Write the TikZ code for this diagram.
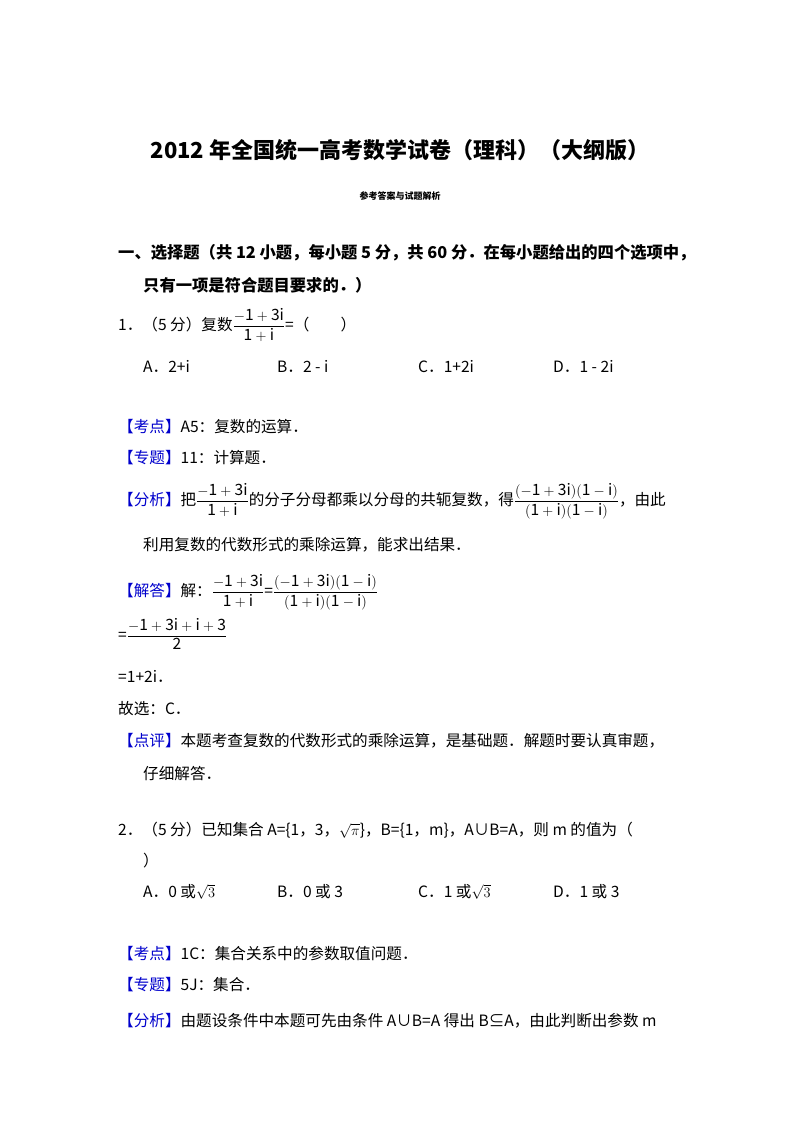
\documentclass[tikz,border=0pt]{standalone}
\usepackage{amsmath}
\usepackage{fontspec}
\setmainfont{Noto Sans CJK SC}
\begin{document}
\begin{tikzpicture}[x=1pt,y=-1pt,
  every node/.style={inner sep=0pt,anchor=base west,font=\fontsize{15.6}{18}\selectfont},
  ttl/.style={font=\fontsize{22}{25}\selectfont\bfseries},
  sec/.style={font=\fontsize{16.3}{19}\selectfont\bfseries}]
\useasboundingbox (0,0) rectangle (800,1133);
\newcommand\bl[1]{\textcolor{blue!80!black}{【#1】}}
\newcommand\fr[2]{$\dfrac{\mathrm{#1}}{\mathrm{#2}}$}
\node[ttl,anchor=base] (title) at (400,158) {2012 年全国统一高考数学试卷（理科）（大纲版）};
\node[anchor=base,font=\fontsize{9}{10}\selectfont\bfseries] (sub) at (400,199) {参考答案与试题解析};
\node[sec] (s1) at (118,258) {一、选择题（共 12 小题，每小题 5 分，共 60 分．在每小题给出的四个选项中，};
\node[sec] (s2) at (143,291) {只有一项是符合题目要求的．）};
\node (q1) at (118,330) {1．（5 分）复数\fr{-1+3i}{1+i}=（\qquad）};
\node (q1a) at (143,372) {A．2+i};
\node (q1b) at (277,372) {B．2 - i};
\node (q1c) at (418,372) {C．1+2i};
\node (q1d) at (553,372) {D．1 - 2i};
\node (k1) at (118,432) {\bl{考点}A5：复数的运算．};
\node (z1) at (118,463) {\bl{专题}11：计算题．};
\node (f1) at (118,505) {\bl{分析}把\fr{-1+3i}{1+i}的分子分母都乘以分母的共轭复数，得\fr{(-1+3i)(1-i)}{(1+i)(1-i)}，由此};
\node (f1b) at (143,550) {利用复数的代数形式的乘除运算，能求出结果．};
\node (j1) at (118,596) {\bl{解答}解：\fr{-1+3i}{1+i}=\fr{(-1+3i)(1-i)}{(1+i)(1-i)}};
\node (j2) at (118,640) {=\fr{-1+3i+i+3}{2}};
\node (j3) at (118,682) {=1+2i．};
\node (j4) at (118,714) {故选：C．};
\node (d1) at (118,746) {\bl{点评}本题考查复数的代数形式的乘除运算，是基础题．解题时要认真审题，};
\node (d2) at (143,779) {仔细解答．};
\node (q2) at (118,835) {2．（5 分）已知集合 A=\{1，3，$\sqrt{\pi}$\}，B=\{1，m\}，A∪B=A，则 m 的值为（};
\node (q2p) at (143,866) {）};
\node (q2a) at (143,897) {A．0 或$\sqrt{3}$};
\node (q2b) at (277,897) {B．0 或 3};
\node (q2c) at (418,897) {C．1 或$\sqrt{3}$};
\node (q2d) at (553,897) {D．1 或 3};
\node (k2) at (118,959) {\bl{考点}1C：集合关系中的参数取值问题．};
\node (z2) at (118,990) {\bl{专题}5J：集合．};
\node (f2) at (118,1026) {\bl{分析}由题设条件中本题可先由条件 A∪B=A 得出 B⊆A，由此判断出参数 m};
\end{tikzpicture}
\end{document}
